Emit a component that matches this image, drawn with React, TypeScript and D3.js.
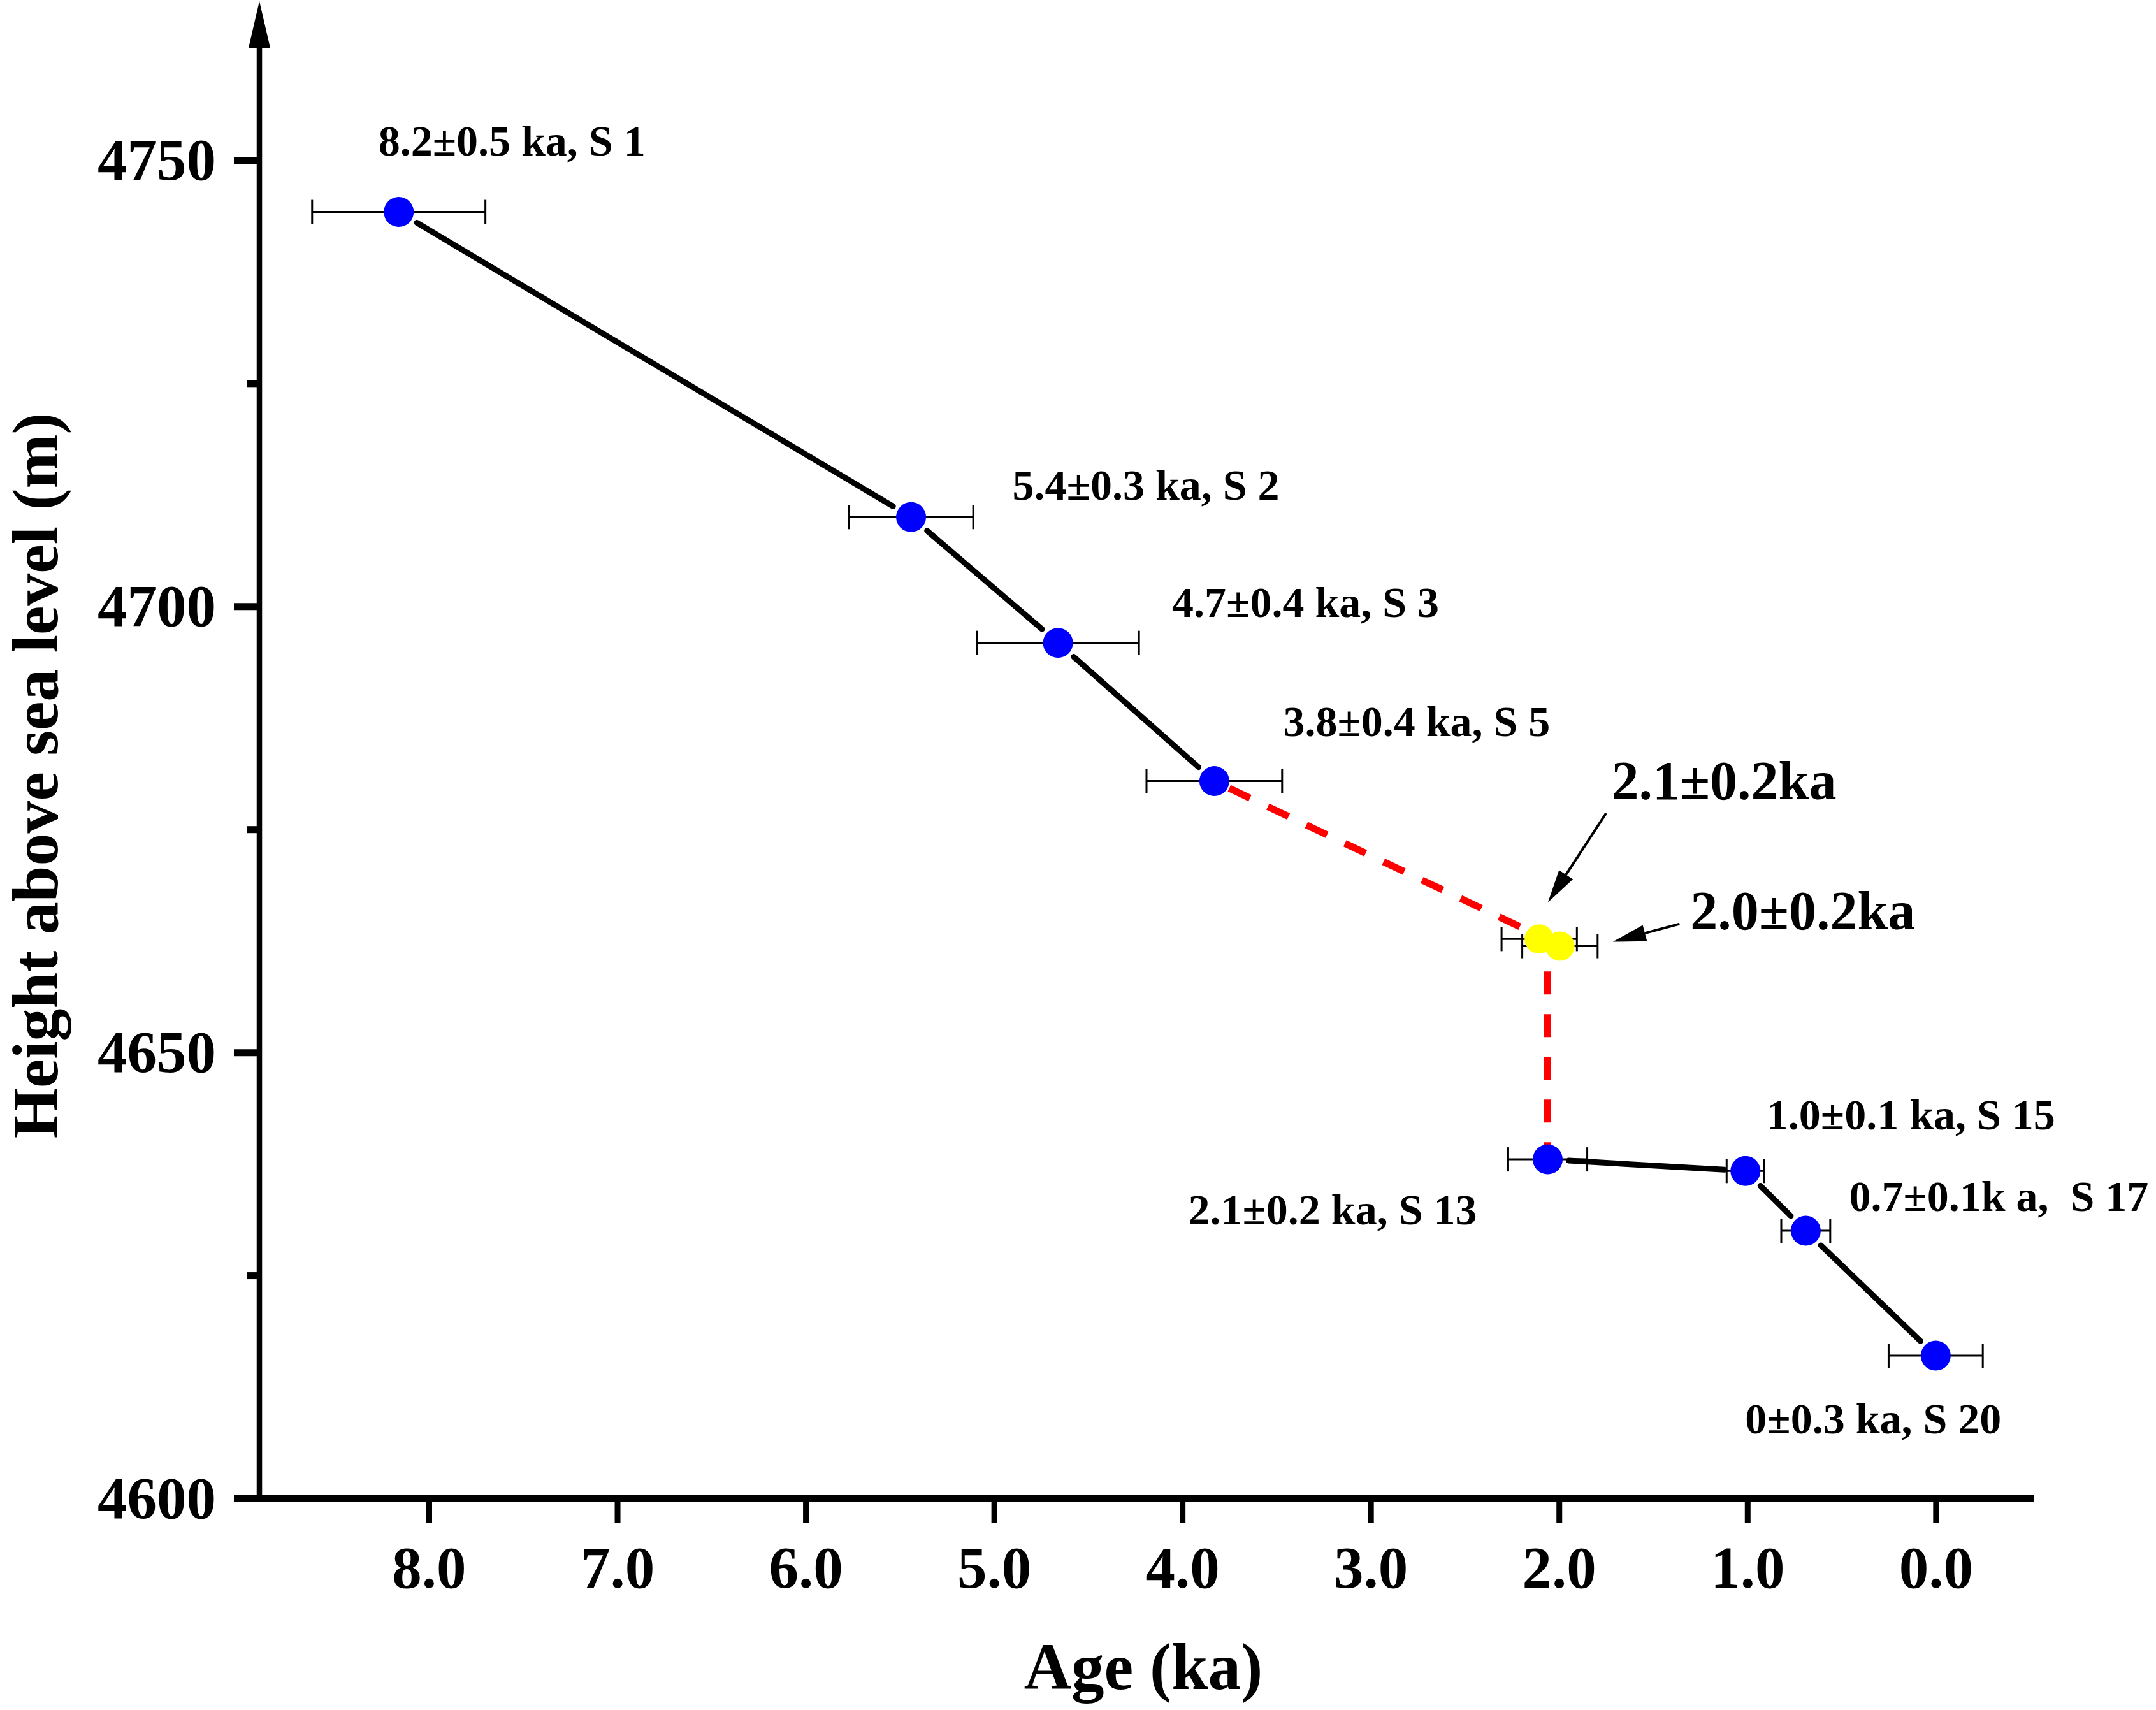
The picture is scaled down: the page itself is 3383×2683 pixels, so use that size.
import { useEffect, useRef } from 'react';
import * as d3 from 'd3';

const WIDTH = 3383;
const HEIGHT = 2683;
const FONT = '"Liberation Serif", "Times New Roman", serif';

// dated samples (age in ka, height in m a.s.l.)
const samples = ['S 1', 'S 2', 'S 3', 'S 5', 'S 13', 'S 15', 'S 17', 'S 20'];
const ages = [8.16, 5.44, 4.66, 3.83, 2.06, 1.01, 0.69, 0.0];
const heights = [4744.2, 4710.0, 4695.9, 4680.4, 4638.0, 4636.7, 4630.0, 4616.0];
const ageErrors = [0.46, 0.33, 0.43, 0.36, 0.21, 0.1, 0.13, 0.25];
const pointLabels = [
  '8.2±0.5 ka, S 1',
  '5.4±0.3 ka, S 2',
  '4.7±0.4 ka, S 3',
  '3.8±0.4 ka, S 5',
  '2.1±0.2 ka, S 13',
  '1.0±0.1 ka, S 15',
  '0.7±0.1k a,  S 17',
  '0±0.3 ka, S 20',
];
// solid segments: S1-S5 and S13-S20
const solidRuns = [[0, 1, 2, 3], [4, 5, 6, 7]];

// yellow samples
const yellowAges = [2.105, 1.995];
const yellowHeights = [4662.7, 4661.9];
const yellowErrors = [0.2, 0.2];

// red dashed connection
const redAges = [3.83, 2.06, 2.06];
const redHeights = [4680.4, 4662.6, 4638.0];

// callouts for yellow samples
const calloutTexts = ['2.1±0.2ka', '2.0±0.2ka'];
const calloutAges = [1.722, 1.303];
const calloutHeights = [4678.4, 4663.8];
const arrowFromAges = [1.75, 1.36];
const arrowFromHeights = [4676.8, 4664.4];
const arrowToAges = [2.059, 1.714];
const arrowToHeights = [4666.8, 4662.4];

const xTicks = [8, 7, 6, 5, 4, 3, 2, 1, 0];
const yTicks = [4600, 4650, 4700, 4750];
const yMinorTicks = [4625, 4675, 4725];

// label placement relative to point (px): [dx to text start, dy to baseline]
const labelOffsets: [number, number][] = [
  [-32, -89], [159, -27], [179, -41], [108, -71],
  [-564, 102], [33, -65], [68, -31], [-299, 122],
];

function ChartSvg() {
  const svgRef = useRef<SVGSVGElement>(null);

  useEffect(() => {
    if (!svgRef.current) return;
    d3.select(svgRef.current).selectAll('*').remove();

    const svg = d3.select(svgRef.current)
      .attr('width', WIDTH)
      .attr('height', HEIGHT);

    svg.append('rect').attr('width', WIDTH).attr('height', HEIGHT).attr('fill', '#fff');

    const x = d3.scaleLinear().domain([8.9, -0.52]).range([407, 3191]);
    const y = d3.scaleLinear().domain([4600, 4750]).range([2351, 251.4]);
    const x0 = x(8.9);
    const yBase = y(4600);

    // y axis ticks (major)
    const yAxis = svg.append('g')
      .attr('transform', `translate(${x0},0)`)
      .call(d3.axisLeft(y).tickValues(yTicks).tickSize(40).tickFormat(d3.format('d')));
    yAxis.select('.domain').remove();
    yAxis.selectAll('.tick line').attr('stroke', '#000').attr('stroke-width', 11);
    yAxis.selectAll('.tick text')
      .attr('x', -68)
      .attr('dy', null)
      .attr('y', 30)
      .attr('fill', '#000')
      .attr('font-family', FONT)
      .attr('font-weight', 'bold')
      .attr('font-size', 93);

    // y minor ticks
    const yMinor = svg.append('g')
      .attr('transform', `translate(${x0},0)`)
      .call(d3.axisLeft(y).tickValues(yMinorTicks).tickSize(20).tickFormat(() => ''));
    yMinor.select('.domain').remove();
    yMinor.selectAll('.tick line').attr('stroke', '#000').attr('stroke-width', 11);

    // x axis
    const xAxis = svg.append('g')
      .attr('transform', `translate(0,${yBase})`)
      .call(d3.axisBottom(x).tickValues(xTicks).tickSize(38).tickFormat(d3.format('.1f')));
    xAxis.select('.domain').remove();
    xAxis.selectAll('.tick line').attr('stroke', '#000').attr('stroke-width', 9);
    xAxis.selectAll('.tick text')
      .attr('dy', null)
      .attr('y', 140)
      .attr('fill', '#000')
      .attr('font-family', FONT)
      .attr('font-weight', 'bold')
      .attr('font-size', 93);

    // axis lines
    svg.append('line')
      .attr('x1', x0 - 4).attr('x2', x(-0.52))
      .attr('y1', yBase).attr('y2', yBase)
      .attr('stroke', '#000').attr('stroke-width', 11);
    svg.append('line')
      .attr('x1', x0).attr('x2', x0)
      .attr('y1', yBase).attr('y2', 60)
      .attr('stroke', '#000').attr('stroke-width', 8.5);
    svg.append('path')
      .attr('d', `M${x0},2 L${x0 - 17},75 L${x0 + 17},75 Z`)
      .attr('fill', '#000');

    // axis titles
    svg.append('text')
      .attr('x', 1794).attr('y', 2650)
      .attr('text-anchor', 'middle')
      .attr('font-family', FONT).attr('font-weight', 'bold').attr('font-size', 103)
      .text('Age (ka)');
    svg.append('text')
      .attr('transform', `translate(90,1217) rotate(-90)`)
      .attr('text-anchor', 'middle')
      .attr('font-family', FONT).attr('font-weight', 'bold').attr('font-size', 102)
      .text('Height above sea level (m)');

    const pts = samples.map((s, i) => ({
      name: s, cx: x(ages[i]), cy: y(heights[i]), err: ageErrors[i], age: ages[i],
    }));
    const ypts = yellowAges.map((a, i) => ({
      cx: x(a), cy: y(yellowHeights[i]), err: yellowErrors[i], age: a,
    }));

    // error bars
    const errG = svg.append('g').attr('stroke', '#000').attr('stroke-width', 3);
    [...pts, ...ypts].forEach(p => {
      const xl = x(p.age + p.err);
      const xr = x(p.age - p.err);
      errG.append('line').attr('x1', xl).attr('x2', xr).attr('y1', p.cy).attr('y2', p.cy);
      errG.append('line').attr('x1', xl).attr('x2', xl).attr('y1', p.cy - 19).attr('y2', p.cy + 19);
      errG.append('line').attr('x1', xr).attr('x2', xr).attr('y1', p.cy - 19).attr('y2', p.cy + 19);
    });

    // red dashed path
    const redLine = d3.line<number>()
      .x(i => x(redAges[i]))
      .y(i => y(redHeights[i]));
    svg.append('path')
      .attr('d', redLine(redAges.map((_, i) => i)))
      .attr('fill', 'none')
      .attr('stroke', '#ff0000')
      .attr('stroke-width', 11)
      .attr('stroke-dasharray', '36 31')
      .attr('stroke-dashoffset', -26);

    // solid black segments with gap to symbols
    const gap = 33;
    solidRuns.forEach(run => {
      for (let k = 0; k < run.length - 1; k++) {
        const a = pts[run[k]];
        const b = pts[run[k + 1]];
        const dx = b.cx - a.cx;
        const dy = b.cy - a.cy;
        const len = Math.hypot(dx, dy);
        const ux = dx / len;
        const uy = dy / len;
        svg.append('line')
          .attr('x1', a.cx + ux * gap).attr('y1', a.cy + uy * gap)
          .attr('x2', b.cx - ux * gap).attr('y2', b.cy - uy * gap)
          .attr('stroke', '#000').attr('stroke-width', 9).attr('stroke-linecap', 'round');
      }
    });

    // symbols
    svg.append('g').selectAll('circle')
      .data(pts)
      .enter()
      .append('circle')
      .attr('cx', d => d.cx).attr('cy', d => d.cy).attr('r', 23.5)
      .attr('fill', '#0000ff');
    svg.append('g').selectAll('circle')
      .data(ypts)
      .enter()
      .append('circle')
      .attr('cx', d => d.cx).attr('cy', d => d.cy).attr('r', 23)
      .attr('fill', '#ffff00');

    // point labels
    svg.append('g').selectAll('text')
      .data(pts)
      .enter()
      .append('text')
      .attr('x', (d, i) => d.cx + labelOffsets[i][0])
      .attr('y', (d, i) => d.cy + labelOffsets[i][1])
      .attr('font-family', FONT).attr('font-weight', 'bold').attr('font-size', 68)
      .style('white-space', 'pre')
      .text((_, i) => pointLabels[i]);

    // callouts
    calloutTexts.forEach((t, i) => {
      svg.append('text')
        .attr('x', x(calloutAges[i])).attr('y', y(calloutHeights[i]))
        .attr('font-family', FONT).attr('font-weight', 'bold').attr('font-size', 86)
        .text(t);
      const fx = x(arrowFromAges[i]);
      const fy = y(arrowFromHeights[i]);
      const tx = x(arrowToAges[i]);
      const ty = y(arrowToHeights[i]);
      const len = Math.hypot(tx - fx, ty - fy);
      const ux = (tx - fx) / len;
      const uy = (ty - fy) / len;
      const head = 52;
      const hw = 13;
      const bx = tx - ux * head;
      const by = ty - uy * head;
      svg.append('line')
        .attr('x1', fx).attr('y1', fy).attr('x2', bx).attr('y2', by)
        .attr('stroke', '#000').attr('stroke-width', 4);
      svg.append('path')
        .attr('d', `M${tx},${ty} L${bx - uy * hw},${by + ux * hw} L${bx + uy * hw},${by - ux * hw} Z`)
        .attr('fill', '#000');
    });
  }, []);

  return <svg ref={svgRef} style={{ display: 'block' }} />;
}

export default function App() {
  return (
    <div style={{ position: 'absolute', left: 0, top: 0 }}>
      <ChartSvg />
    </div>
  );
}
